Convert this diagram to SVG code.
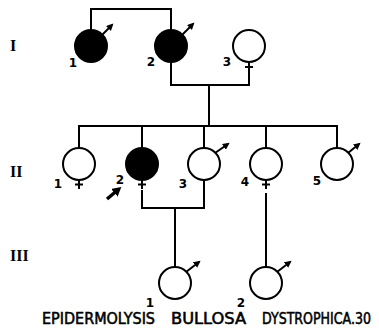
<svg xmlns="http://www.w3.org/2000/svg" width="379" height="330" viewBox="0 0 379 330">
<style>
.ln{fill:none;stroke:#000;stroke-width:2}
.op{fill:#fff;stroke:#000;stroke-width:2}
.af{fill:#000;stroke:#000;stroke-width:2}
.ms{stroke:#000;stroke-width:2;marker-end:url(#ah)}
.gen{font-family:"Liberation Serif",serif;font-weight:bold;font-size:16px}
.num{font-family:"DejaVu Sans",sans-serif;font-weight:bold;font-size:12px;text-anchor:middle}
.cap{font-family:"Liberation Sans Narrow","DejaVu Sans Condensed",sans-serif;font-size:15px;stroke:#000;stroke-width:0.5}
</style>
<defs>
<marker id="ah" markerUnits="userSpaceOnUse" markerWidth="8" markerHeight="8" refX="5" refY="3.5" orient="auto">
<path d="M0,0 L7,3.5 L0,7 z" fill="#000"/>
</marker>
<marker id="pa" markerUnits="userSpaceOnUse" markerWidth="10" markerHeight="10" refX="6" refY="5" orient="auto">
<path d="M0,0 L9,5 L0,10 z" fill="#000"/>
</marker>
</defs>
<rect width="379" height="330" fill="#fff"/>
<g id="connectors">
<path class="ln" d="M91,29 V9 H171 V29"/>
<path class="ln" d="M171,63 V85 H249 V72"/>
<path class="ln" d="M209,85 V126"/>
<path class="ln" d="M79,148 V126 H337 V148"/>
<path class="ln" d="M142,126 V148 M204,126 V148 M266,126 V148"/>
<path class="ln" d="M142,190 V208 H204 V181"/>
<path class="ln" d="M175,208 V267"/>
<path class="ln" d="M266,193 V267"/>
</g>
<g id="gen-labels">
<text class="gen" x="10" y="51">I</text>
<text class="gen" x="10" y="177">II</text>
<text class="gen" x="10" y="261">III</text>
</g>
<g id="I-1">
<circle class="af" cx="91" cy="46" r="16"/>
<line class="ms" x1="102" y1="35" x2="112" y2="25"/>
<text class="num" x="73" y="67">1</text>
</g>
<g id="I-2">
<circle class="af" cx="171" cy="46" r="16"/>
<line class="ms" x1="182" y1="35" x2="193" y2="24"/>
<text class="num" x="151" y="66">2</text>
</g>
<g id="I-3">
<circle class="op" cx="249" cy="46" r="16"/>
<path class="ln" d="M249,62 V72 M245,67 H253"/>
<text class="num" x="227" y="66">3</text>
</g>
<g id="II-1">
<circle class="op" cx="79" cy="164" r="16"/>
<path class="ln" d="M79,180 V189 M75,184.5 H83"/>
<text class="num" x="58" y="188">1</text>
</g>
<g id="II-2">
<circle class="af" cx="142" cy="164" r="16"/>
<path class="ln" d="M142,180 V189 M138,184.5 H146"/>
<text class="num" x="120" y="184">2</text>
<line x1="107" y1="199" x2="119" y2="189" stroke="#000" stroke-width="3.5" marker-end="url(#pa)"/>
</g>
<g id="II-3">
<circle class="op" cx="204" cy="164" r="16"/>
<line class="ms" x1="215" y1="153" x2="228" y2="144"/>
<text class="num" x="183" y="188">3</text>
</g>
<g id="II-4">
<circle class="op" cx="266" cy="164" r="16"/>
<path class="ln" d="M266,180 V189 M262,184.5 H270"/>
<text class="num" x="245" y="186">4</text>
</g>
<g id="II-5">
<circle class="op" cx="337" cy="164" r="16"/>
<line class="ms" x1="348" y1="153" x2="359" y2="144"/>
<text class="num" x="317" y="185">5</text>
</g>
<g id="III-1">
<circle class="op" cx="175" cy="283" r="16"/>
<line class="ms" x1="186" y1="272" x2="199" y2="262"/>
<text class="num" x="150" y="307">1</text>
</g>
<g id="III-2">
<circle class="op" cx="266" cy="283" r="16"/>
<line class="ms" x1="277" y1="272" x2="290" y2="262"/>
<text class="num" x="241" y="307">2</text>
</g>
<g id="caption">
<text class="cap" x="42" y="324" textLength="113" lengthAdjust="spacingAndGlyphs">EPIDERMOLYSIS</text>
<text class="cap" x="171" y="324" textLength="75" lengthAdjust="spacingAndGlyphs">BULLOSA</text>
<text class="cap" x="262" y="324" textLength="109" lengthAdjust="spacingAndGlyphs">DYSTROPHICA.30</text>
</g>
</svg>
